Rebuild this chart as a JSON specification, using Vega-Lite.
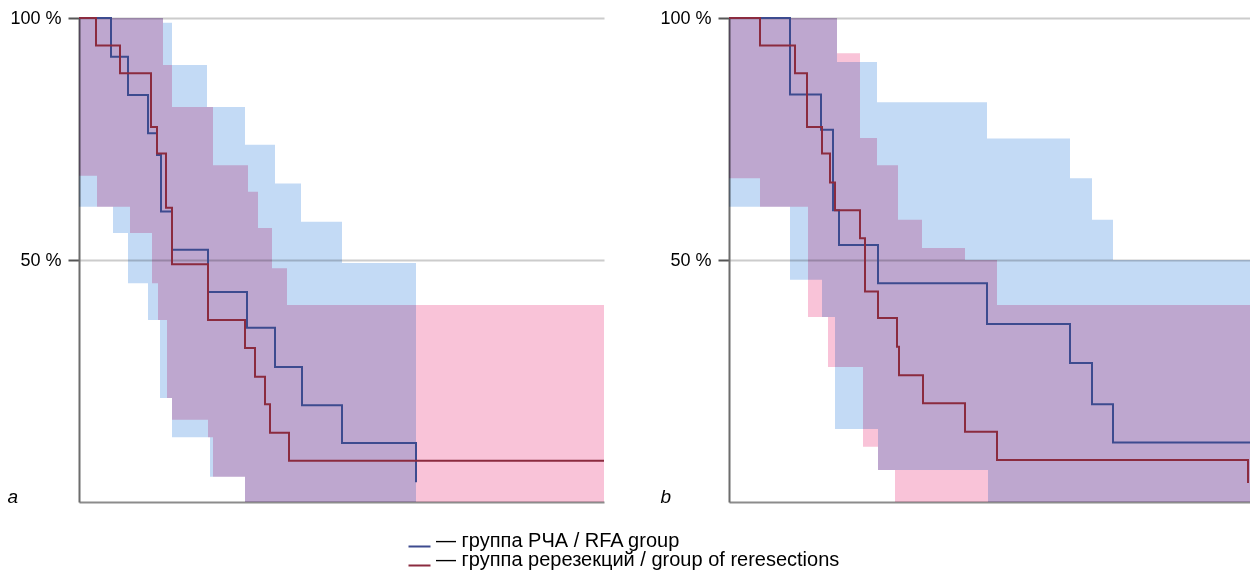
{
  "$schema": "https://vega.github.io/schema/vega-lite/v6.json",
  "background": "white",
  "padding": {"left": 7, "top": 9, "right": 0, "bottom": 0},
  "spacing": 51,
  "config": {
    "view": {"stroke": null},
    "font": "Liberation Sans",
    "axisY": {"domainColor": "#6d6d6d", "domainWidth": 2, "tickColor": "#555555", "tickWidth": 2, "tickSize": 11, "labelPadding": 7, "labelFontSize": 18, "labelColor": "#000000", "labelFont": "Liberation Sans", "gridColor": "#cccccc", "gridWidth": 2},
    "axisX": {"domainColor": "#8c8c8c", "domainWidth": 2, "labels": false, "ticks": false, "grid": false}
  },
  "datasets": {
    "curves": [
      {"panel": "a", "group": "группа РЧА / RFA group", "time": 0, "survival": 100},
      {"panel": "a", "group": "группа РЧА / RFA group", "time": 32, "survival": 92.0},
      {"panel": "a", "group": "группа РЧА / RFA group", "time": 49, "survival": 84.1},
      {"panel": "a", "group": "группа РЧА / RFA group", "time": 69, "survival": 76.2},
      {"panel": "a", "group": "группа РЧА / RFA group", "time": 78, "survival": 71.7},
      {"panel": "a", "group": "группа РЧА / RFA group", "time": 82, "survival": 60.0},
      {"panel": "a", "group": "группа РЧА / RFA group", "time": 93, "survival": 52.1},
      {"panel": "a", "group": "группа РЧА / RFA group", "time": 129, "survival": 43.4},
      {"panel": "a", "group": "группа РЧА / RFA group", "time": 168, "survival": 36.0},
      {"panel": "a", "group": "группа РЧА / RFA group", "time": 196, "survival": 27.9},
      {"panel": "a", "group": "группа РЧА / RFA group", "time": 223, "survival": 20.0},
      {"panel": "a", "group": "группа РЧА / RFA group", "time": 263, "survival": 12.2},
      {"panel": "a", "group": "группа РЧА / RFA group", "time": 337, "survival": 4.1},
      {"panel": "a", "group": "группа ререзекций / group of reresections", "time": 0, "survival": 100},
      {"panel": "a", "group": "группа ререзекций / group of reresections", "time": 17, "survival": 94.3},
      {"panel": "a", "group": "группа ререзекций / group of reresections", "time": 41, "survival": 88.6},
      {"panel": "a", "group": "группа ререзекций / group of reresections", "time": 72, "survival": 77.5},
      {"panel": "a", "group": "группа ререзекций / group of reresections", "time": 78, "survival": 72.0},
      {"panel": "a", "group": "группа ререзекций / group of reresections", "time": 87, "survival": 60.8},
      {"panel": "a", "group": "группа ререзекций / group of reresections", "time": 93, "survival": 49.1},
      {"panel": "a", "group": "группа ререзекций / group of reresections", "time": 129, "survival": 37.6},
      {"panel": "a", "group": "группа ререзекций / group of reresections", "time": 166, "survival": 31.8},
      {"panel": "a", "group": "группа ререзекций / group of reresections", "time": 176, "survival": 25.9},
      {"panel": "a", "group": "группа ререзекций / group of reresections", "time": 186, "survival": 20.2},
      {"panel": "a", "group": "группа ререзекций / group of reresections", "time": 191, "survival": 14.3},
      {"panel": "a", "group": "группа ререзекций / group of reresections", "time": 210, "survival": 8.5},
      {"panel": "a", "group": "группа ререзекций / group of reresections", "time": 525, "survival": 8.5},
      {"panel": "b", "group": "группа РЧА / RFA group", "time": 0, "survival": 100},
      {"panel": "b", "group": "группа РЧА / RFA group", "time": 61, "survival": 84.2},
      {"panel": "b", "group": "группа РЧА / RFA group", "time": 92, "survival": 76.9},
      {"panel": "b", "group": "группа РЧА / RFA group", "time": 104, "survival": 60.3},
      {"panel": "b", "group": "группа РЧА / RFA group", "time": 110, "survival": 53.1},
      {"panel": "b", "group": "группа РЧА / RFA group", "time": 149, "survival": 45.2},
      {"panel": "b", "group": "группа РЧА / RFA group", "time": 258, "survival": 36.8},
      {"panel": "b", "group": "группа РЧА / RFA group", "time": 341, "survival": 28.7},
      {"panel": "b", "group": "группа РЧА / RFA group", "time": 363, "survival": 20.2},
      {"panel": "b", "group": "группа РЧА / RFA group", "time": 384, "survival": 12.3},
      {"panel": "b", "group": "группа РЧА / RFA group", "time": 521, "survival": 12.3},
      {"panel": "b", "group": "группа ререзекций / group of reresections", "time": 0, "survival": 100},
      {"panel": "b", "group": "группа ререзекций / group of reresections", "time": 31, "survival": 94.3},
      {"panel": "b", "group": "группа ререзекций / group of reresections", "time": 66, "survival": 88.6},
      {"panel": "b", "group": "группа ререзекций / group of reresections", "time": 78, "survival": 77.5},
      {"panel": "b", "group": "группа ререзекций / group of reresections", "time": 93, "survival": 72.0},
      {"panel": "b", "group": "группа ререзекций / group of reresections", "time": 101, "survival": 66.0},
      {"panel": "b", "group": "группа ререзекций / group of reresections", "time": 106, "survival": 60.3},
      {"panel": "b", "group": "группа ререзекций / group of reresections", "time": 131, "survival": 54.5},
      {"panel": "b", "group": "группа ререзекций / group of reresections", "time": 136, "survival": 43.5},
      {"panel": "b", "group": "группа ререзекций / group of reresections", "time": 149, "survival": 38.0},
      {"panel": "b", "group": "группа ререзекций / group of reresections", "time": 168, "survival": 32.1},
      {"panel": "b", "group": "группа ререзекций / group of reresections", "time": 170, "survival": 26.2},
      {"panel": "b", "group": "группа ререзекций / group of reresections", "time": 194, "survival": 20.4},
      {"panel": "b", "group": "группа ререзекций / group of reresections", "time": 236, "survival": 14.5},
      {"panel": "b", "group": "группа ререзекций / group of reresections", "time": 268, "survival": 8.7},
      {"panel": "b", "group": "группа ререзекций / group of reresections", "time": 519, "survival": 3.9}
    ],
    "bands": [
      {"panel": "a", "band": "RFA", "time": 0, "upper": 100, "lower": 61.0},
      {"panel": "a", "band": "RFA", "time": 34, "upper": 100, "lower": 55.6},
      {"panel": "a", "band": "RFA", "time": 49, "upper": 100, "lower": 45.2},
      {"panel": "a", "band": "RFA", "time": 69, "upper": 100, "lower": 37.6},
      {"panel": "a", "band": "RFA", "time": 81, "upper": 100, "lower": 21.5},
      {"panel": "a", "band": "RFA", "time": 84, "upper": 99, "lower": 21.5},
      {"panel": "a", "band": "RFA", "time": 93, "upper": 90.3, "lower": 13.4},
      {"panel": "a", "band": "RFA", "time": 128, "upper": 81.6, "lower": 13.4},
      {"panel": "a", "band": "RFA", "time": 131, "upper": 81.6, "lower": 5.2},
      {"panel": "a", "band": "RFA", "time": 166, "upper": 73.8, "lower": 0},
      {"panel": "a", "band": "RFA", "time": 196, "upper": 65.8, "lower": 0},
      {"panel": "a", "band": "RFA", "time": 222, "upper": 57.9, "lower": 0},
      {"panel": "a", "band": "RFA", "time": 263, "upper": 49.4, "lower": 0},
      {"panel": "a", "band": "RFA", "time": 337, "upper": 49.4, "lower": 0},
      {"panel": "a", "band": "RR", "time": 0, "upper": 100, "lower": 67.4},
      {"panel": "a", "band": "RR", "time": 18, "upper": 100, "lower": 61.0},
      {"panel": "a", "band": "RR", "time": 51, "upper": 100, "lower": 55.6},
      {"panel": "a", "band": "RR", "time": 73, "upper": 100, "lower": 45.2},
      {"panel": "a", "band": "RR", "time": 79, "upper": 100, "lower": 37.6},
      {"panel": "a", "band": "RR", "time": 84, "upper": 90.3, "lower": 37.6},
      {"panel": "a", "band": "RR", "time": 88, "upper": 90.3, "lower": 21.5},
      {"panel": "a", "band": "RR", "time": 93, "upper": 81.6, "lower": 17.0},
      {"panel": "a", "band": "RR", "time": 129, "upper": 81.6, "lower": 13.4},
      {"panel": "a", "band": "RR", "time": 134, "upper": 69.6, "lower": 5.2},
      {"panel": "a", "band": "RR", "time": 166, "upper": 69.6, "lower": 0},
      {"panel": "a", "band": "RR", "time": 169, "upper": 64.1, "lower": 0},
      {"panel": "a", "band": "RR", "time": 179, "upper": 56.6, "lower": 0},
      {"panel": "a", "band": "RR", "time": 193, "upper": 48.3, "lower": 0},
      {"panel": "a", "band": "RR", "time": 208, "upper": 40.7, "lower": 0},
      {"panel": "a", "band": "RR", "time": 525, "upper": 40.7, "lower": 0},
      {"panel": "b", "band": "RFA", "time": 0, "upper": 100, "lower": 61.0},
      {"panel": "b", "band": "RFA", "time": 61, "upper": 100, "lower": 45.9},
      {"panel": "b", "band": "RFA", "time": 93, "upper": 100, "lower": 38.2},
      {"panel": "b", "band": "RFA", "time": 106, "upper": 100, "lower": 15.1},
      {"panel": "b", "band": "RFA", "time": 108, "upper": 90.9, "lower": 15.1},
      {"panel": "b", "band": "RFA", "time": 148, "upper": 82.6, "lower": 15.1},
      {"panel": "b", "band": "RFA", "time": 149, "upper": 82.6, "lower": 6.6},
      {"panel": "b", "band": "RFA", "time": 258, "upper": 75.1, "lower": 6.6},
      {"panel": "b", "band": "RFA", "time": 259, "upper": 75.1, "lower": 0},
      {"panel": "b", "band": "RFA", "time": 341, "upper": 66.9, "lower": 0},
      {"panel": "b", "band": "RFA", "time": 363, "upper": 58.3, "lower": 0},
      {"panel": "b", "band": "RFA", "time": 384, "upper": 50.0, "lower": 0},
      {"panel": "b", "band": "RFA", "time": 521, "upper": 50.0, "lower": 0},
      {"panel": "b", "band": "RR", "time": 0, "upper": 100, "lower": 66.9},
      {"panel": "b", "band": "RR", "time": 31, "upper": 100, "lower": 61.0},
      {"panel": "b", "band": "RR", "time": 79, "upper": 100, "lower": 38.2},
      {"panel": "b", "band": "RR", "time": 99, "upper": 100, "lower": 27.9},
      {"panel": "b", "band": "RR", "time": 108, "upper": 92.7, "lower": 27.9},
      {"panel": "b", "band": "RR", "time": 131, "upper": 75.2, "lower": 27.9},
      {"panel": "b", "band": "RR", "time": 134, "upper": 75.2, "lower": 11.4},
      {"panel": "b", "band": "RR", "time": 148, "upper": 69.6, "lower": 11.4},
      {"panel": "b", "band": "RR", "time": 149, "upper": 69.6, "lower": 6.6},
      {"panel": "b", "band": "RR", "time": 166, "upper": 69.6, "lower": 0},
      {"panel": "b", "band": "RR", "time": 169, "upper": 58.3, "lower": 0},
      {"panel": "b", "band": "RR", "time": 193, "upper": 52.5, "lower": 0},
      {"panel": "b", "band": "RR", "time": 236, "upper": 50.0, "lower": 0},
      {"panel": "b", "band": "RR", "time": 268, "upper": 40.7, "lower": 0},
      {"panel": "b", "band": "RR", "time": 521, "upper": 40.7, "lower": 0}
    ]
  },
  "resolve": {"scale": {"color": "shared"}, "legend": {"color": "shared"}},
  "hconcat": [
    {
      "width": 525,
      "height": 484,
      "layer": [
        {
          "data": {"name": "bands"},
          "transform": [{"filter": "datum.panel === 'a' && datum.band === 'RFA'"}],
          "mark": {"type": "area", "interpolate": "step-after", "color": "#c3daf5", "opacity": 1, "blend": "multiply"},
          "encoding": {
            "x": {"field": "time", "type": "quantitative", "scale": {"domain": [0, 525], "nice": false}, "axis": {"title": null}},
            "y": {"field": "upper", "type": "quantitative", "scale": {"domain": [0, 100], "nice": false}, "axis": {"values": [50, 100], "labelExpr": "datum.value + ' %'", "title": "a", "titleAngle": 0, "titleX": -72, "titleY": 484, "titleAlign": "left", "titleBaseline": "alphabetic", "titleFontStyle": "italic", "titleFontWeight": "normal", "titleFontSize": 19, "titleColor": "#000000", "grid": true}},
            "y2": {"field": "lower"}
          }
        },
        {
          "data": {"name": "bands"},
          "transform": [{"filter": "datum.panel === 'a' && datum.band === 'RR'"}],
          "mark": {"type": "area", "interpolate": "step-after", "color": "#f9c3d8", "opacity": 1, "blend": "multiply"},
          "encoding": {
            "x": {"field": "time", "type": "quantitative", "scale": {"domain": [0, 525], "nice": false}, "axis": {"title": null}},
            "y": {"field": "upper", "type": "quantitative", "scale": {"domain": [0, 100], "nice": false}, "axis": {"values": [50, 100], "labelExpr": "datum.value + ' %'", "title": "a", "titleAngle": 0, "titleX": -72, "titleY": 484, "titleAlign": "left", "titleBaseline": "alphabetic", "titleFontStyle": "italic", "titleFontWeight": "normal", "titleFontSize": 19, "titleColor": "#000000", "grid": true}},
            "y2": {"field": "lower"}
          }
        },
        {
          "data": {"name": "curves"},
          "transform": [{"filter": "datum.panel === 'a'"}],
          "mark": {"type": "line", "interpolate": "step-after", "strokeWidth": 2},
          "encoding": {
            "x": {"field": "time", "type": "quantitative", "scale": {"domain": [0, 525], "nice": false}, "axis": {"title": null}},
            "y": {"field": "survival", "type": "quantitative", "scale": {"domain": [0, 100], "nice": false}, "axis": {"values": [50, 100], "labelExpr": "datum.value + ' %'", "title": "a", "titleAngle": 0, "titleX": -72, "titleY": 484, "titleAlign": "left", "titleBaseline": "alphabetic", "titleFontStyle": "italic", "titleFontWeight": "normal", "titleFontSize": 19, "titleColor": "#000000", "grid": true}},
            "color": {"field": "group", "type": "nominal", "scale": {"domain": ["группа РЧА / RFA group", "группа ререзекций / group of reresections"], "range": ["#3d4b8f", "#8b2b3f"]}, "legend": {"orient": "none", "legendX": 330, "legendY": 518, "title": null, "symbolType": "M-1.2,0H1.2", "symbolStrokeWidth": 2, "symbolSize": 336, "labelOffset": 6, "labelFont": "Liberation Sans", "labelFontSize": 20, "labelBaseline": "alphabetic", "labelColor": "#000000", "labelLimit": 0, "rowPadding": -2, "labelExpr": "'— ' + datum.label"}}
          }
        }
      ]
    },
    {
      "width": 521,
      "height": 484,
      "layer": [
        {
          "data": {"name": "bands"},
          "transform": [{"filter": "datum.panel === 'b' && datum.band === 'RFA'"}],
          "mark": {"type": "area", "interpolate": "step-after", "color": "#c3daf5", "opacity": 1, "blend": "multiply"},
          "encoding": {
            "x": {"field": "time", "type": "quantitative", "scale": {"domain": [0, 521], "nice": false}, "axis": {"title": null}},
            "y": {"field": "upper", "type": "quantitative", "scale": {"domain": [0, 100], "nice": false}, "axis": {"values": [50, 100], "labelExpr": "datum.value + ' %'", "title": "b", "titleAngle": 0, "titleX": -69, "titleY": 484, "titleAlign": "left", "titleBaseline": "alphabetic", "titleFontStyle": "italic", "titleFontWeight": "normal", "titleFontSize": 19, "titleColor": "#000000", "grid": true}},
            "y2": {"field": "lower"}
          }
        },
        {
          "data": {"name": "bands"},
          "transform": [{"filter": "datum.panel === 'b' && datum.band === 'RR'"}],
          "mark": {"type": "area", "interpolate": "step-after", "color": "#f9c3d8", "opacity": 1, "blend": "multiply"},
          "encoding": {
            "x": {"field": "time", "type": "quantitative", "scale": {"domain": [0, 521], "nice": false}, "axis": {"title": null}},
            "y": {"field": "upper", "type": "quantitative", "scale": {"domain": [0, 100], "nice": false}, "axis": {"values": [50, 100], "labelExpr": "datum.value + ' %'", "title": "b", "titleAngle": 0, "titleX": -69, "titleY": 484, "titleAlign": "left", "titleBaseline": "alphabetic", "titleFontStyle": "italic", "titleFontWeight": "normal", "titleFontSize": 19, "titleColor": "#000000", "grid": true}},
            "y2": {"field": "lower"}
          }
        },
        {
          "data": {"name": "curves"},
          "transform": [{"filter": "datum.panel === 'b'"}],
          "mark": {"type": "line", "interpolate": "step-after", "strokeWidth": 2},
          "encoding": {
            "x": {"field": "time", "type": "quantitative", "scale": {"domain": [0, 521], "nice": false}, "axis": {"title": null}},
            "y": {"field": "survival", "type": "quantitative", "scale": {"domain": [0, 100], "nice": false}, "axis": {"values": [50, 100], "labelExpr": "datum.value + ' %'", "title": "b", "titleAngle": 0, "titleX": -69, "titleY": 484, "titleAlign": "left", "titleBaseline": "alphabetic", "titleFontStyle": "italic", "titleFontWeight": "normal", "titleFontSize": 19, "titleColor": "#000000", "grid": true}},
            "color": {"field": "group", "type": "nominal", "scale": {"domain": ["группа РЧА / RFA group", "группа ререзекций / group of reresections"], "range": ["#3d4b8f", "#8b2b3f"]}, "legend": {"orient": "none", "legendX": 330, "legendY": 518, "title": null, "symbolType": "M-1.2,0H1.2", "symbolStrokeWidth": 2, "symbolSize": 336, "labelOffset": 6, "labelFont": "Liberation Sans", "labelFontSize": 20, "labelBaseline": "alphabetic", "labelColor": "#000000", "labelLimit": 0, "rowPadding": -2, "labelExpr": "'— ' + datum.label"}}
          }
        }
      ]
    }
  ]
}
